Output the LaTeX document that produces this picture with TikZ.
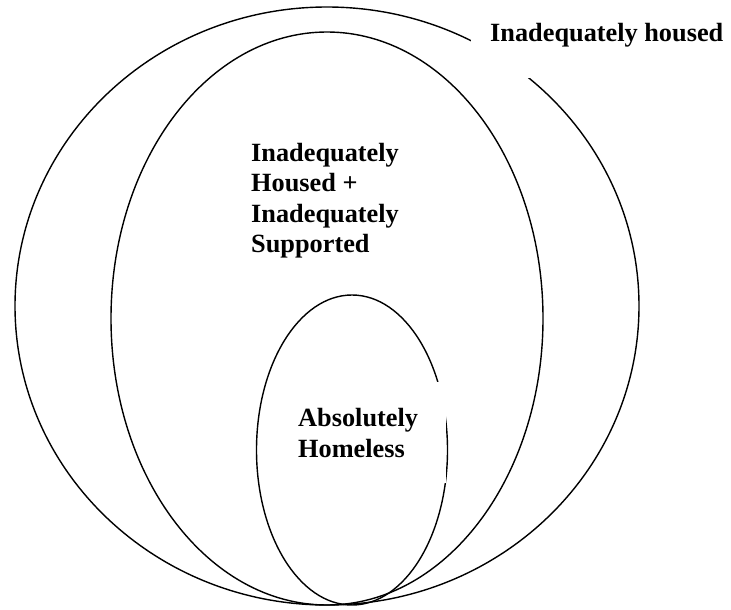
\documentclass[tikz,border=0pt]{standalone}
\usepackage{fontspec}
\setmainfont{Liberation Serif}
\usetikzlibrary{positioning}

\begin{document}
\begin{tikzpicture}[x=1pt,y=-1pt,lbl/.style={fill=white,align=left,inner sep=0pt,font=\bfseries\fontsize{26.3}{30.5}\selectfont,anchor=base west}]
 \useasboundingbox (0,0) rectangle (731,610);
 \draw [line width=1.4pt](327,306) ellipse (312 and 299);
 \draw [line width=1.4pt](327,318.5) ellipse (216 and 286.5);
 \draw [line width=1.4pt](352,450) ellipse (95.5 and 155);
 \node[lbl,inner xsep=19pt,inner ysep=30pt] (housed) at (471,42) {Inadequately housed};
 \node[lbl] (supported) at (251,252.7) {Inadequately\\Housed +\\Inadequately\\Supported};
 \node[lbl,inner xsep=28pt,inner ysep=26pt] (homeless) at (270,457) {Absolutely\\Homeless};
\end{tikzpicture}
\end{document}
